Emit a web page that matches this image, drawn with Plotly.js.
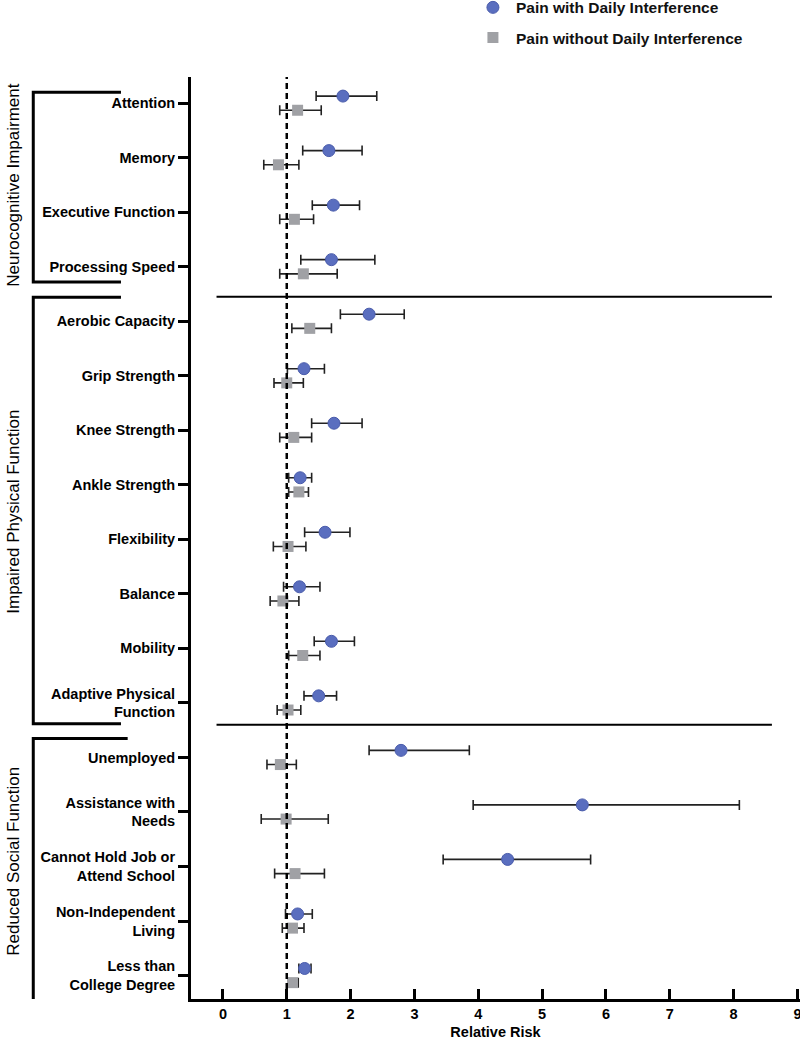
<!DOCTYPE html>
<html>
<head>
<meta charset="utf-8">
<script src="https://cdn.plot.ly/plotly-3.0.1.min.js"></script>
<style>
  html, body { margin: 0; padding: 0; background: #fff; }
  #graph { width: 800px; height: 1040px; }
</style>
</head>
<body>
<div id="graph"></div>
<script>
// Outcome labels, top to bottom
const outcomes = [
  'Attention', 'Memory', 'Executive Function', 'Processing Speed',
  'Aerobic Capacity', 'Grip Strength', 'Knee Strength', 'Ankle Strength',
  'Flexibility', 'Balance', 'Mobility', 'Adaptive Physical<br>Function',
  'Unemployed', 'Assistance with<br>Needs', 'Cannot Hold Job or<br>Attend School',
  'Non-Independent<br>Living', 'Less than<br>College Degree'
];

// Pain with daily interference: relative risk and 95% CI
const withRR = [1.88, 1.66, 1.73, 1.70, 2.29, 1.27, 1.74, 1.21, 1.60, 1.20, 1.70, 1.50, 2.79, 5.63, 4.46, 1.17, 1.28];
const withLo = [1.46, 1.25, 1.40, 1.22, 1.84, 1.01, 1.39, 1.03, 1.28, 0.95, 1.43, 1.27, 2.29, 3.92, 3.45, 0.98, 1.19];
const withHi = [2.41, 2.18, 2.14, 2.38, 2.84, 1.59, 2.18, 1.39, 1.99, 1.52, 2.06, 1.78, 3.86, 8.09, 5.76, 1.40, 1.38];

// Pain without daily interference
const withoutRR = [1.17, 0.87, 1.12, 1.26, 1.36, 1.00, 1.11, 1.19, 1.02, 0.94, 1.25, 1.02, 0.90, 0.99, 1.13, 1.09, 1.09];
const withoutLo = [0.89, 0.64, 0.89, 0.89, 1.08, 0.80, 0.89, 1.03, 0.79, 0.74, 1.03, 0.85, 0.69, 0.60, 0.81, 0.93, 1.03];
const withoutHi = [1.54, 1.19, 1.42, 1.79, 1.70, 1.26, 1.39, 1.34, 1.30, 1.19, 1.52, 1.22, 1.15, 1.65, 1.59, 1.27, 1.18];

// Domain groups: name and first/last outcome index
const groupNames = ['Neurocognitive Impairment', 'Impaired Physical Function', 'Reduced Social Function'];
const groupStart = [0, 4, 12];
const groupEnd = [3, 11, 16];

const idx = outcomes.map((_, i) => i);
const nudge = 0.13;

function errBars(rr, lo, hi) {
  return {
    type: 'data',
    symmetric: false,
    array: hi.map((h, i) => h - rr[i]),
    arrayminus: lo.map((l, i) => rr[i] - l),
    color: '#222',
    thickness: 1.6,
    width: 5
  };
}

const traceWith = {
  type: 'scatter',
  mode: 'markers',
  name: 'Pain with Daily Interference',
  legendgroup: 'a',
  x: withRR,
  y: idx.map(i => i - nudge),
  error_x: errBars(withRR, withLo, withHi),
  marker: { symbol: 'circle', size: 12, color: '#5a6ebf', line: { color: '#4a5cab', width: 1 } },
  hoverinfo: 'x'
};

const traceWithout = {
  type: 'scatter',
  mode: 'markers',
  name: 'Pain without Daily Interference',
  legendgroup: 'b',
  x: withoutRR,
  y: idx.map(i => i + nudge),
  error_x: errBars(withoutRR, withoutLo, withoutHi),
  marker: { symbol: 'square', size: 11, color: '#a0a1a5' },
  hoverinfo: 'x'
};

// Separators between domains, bracket shapes and rotated domain titles
const shapes = [
  { type: 'line', xref: 'x', yref: 'paper', x0: 1, x1: 1, y0: 0, y1: 1,
    line: { color: '#000', width: 2.5, dash: '6px,4px' } },
  { type: 'line', xref: 'x', yref: 'y', x0: -0.1, x1: 8.6, y0: 3.55, y1: 3.55,
    line: { color: '#000', width: 2 } },
  { type: 'line', xref: 'x', yref: 'y', x0: -0.1, x1: 8.6, y0: 11.4, y1: 11.4,
    line: { color: '#000', width: 2 } }
];
const bracketTop = [-0.2, 3.56, 11.65];
const bracketBot = [3.28, 11.38, 16.5];
const bracketEnd = [-0.115, -0.115, -0.104];
const titleShift = [0.01, -0.01, -0.09];
const annotations = [];
groupNames.forEach((g, k) => {
  shapes.push({
    type: 'path', xref: 'paper', yref: 'y',
    path: `M ${bracketEnd[k]} ${bracketTop[k]} L -0.259 ${bracketTop[k]} L -0.259 ${bracketBot[k]} L ${bracketEnd[k]} ${bracketBot[k]}`,
    line: { color: '#000', width: 3 }
  });
  annotations.push({
    xref: 'paper', yref: 'y', x: -0.292, y: (groupStart[k] + groupEnd[k]) / 2 + titleShift[k],
    xanchor: 'center', yanchor: 'middle',
    text: g, textangle: -90, showarrow: false,
    font: { family: 'Arial, Liberation Sans, sans-serif', size: 17, color: '#000' }
  });
});

const layout = {
  width: 800,
  height: 1040,
  margin: { l: 191, r: 0, t: 77, b: 41, autoexpand: false },
  paper_bgcolor: '#fff',
  plot_bgcolor: '#fff',
  font: { family: 'Arial, Liberation Sans, sans-serif', color: '#000' },
  showlegend: true,
  legend: {
    x: 0.458, y: 1.0935, xanchor: 'left', yanchor: 'top',
    traceorder: 'grouped', tracegroupgap: 7, itemwidth: 36,
    font: { size: 15.5, weight: 'bold', color: '#111' },
    bgcolor: 'rgba(0,0,0,0)'
  },
  xaxis: {
    range: [-0.5, 9.04],
    tickvals: [0, 1, 2, 3, 4, 5, 6, 7, 8, 9],
    ticks: 'inside', ticklen: 10, tickwidth: 3, tickcolor: '#000',
    ticklabeloverflow: 'allow',
    showline: true, linewidth: 3, linecolor: '#000',
    showgrid: false, zeroline: false,
    tickfont: { size: 14.5, weight: 'bold' },
    title: { text: 'Relative Risk', font: { size: 14.5, weight: 'bold' }, standoff: 9 }
  },
  yaxis: {
    range: [16.43, -0.48],
    tickvals: idx,
    ticktext: outcomes,
    ticks: 'outside', ticklen: 10, tickwidth: 3, tickcolor: '#000',
    showline: true, linewidth: 3, linecolor: '#000',
    showgrid: false, zeroline: false,
    tickfont: { size: 14.5, weight: 'bold' }
  },
  shapes: shapes,
  annotations: annotations
};

Plotly.newPlot('graph', [traceWith, traceWithout], layout, { displayModeBar: false });
</script>
</body>
</html>
